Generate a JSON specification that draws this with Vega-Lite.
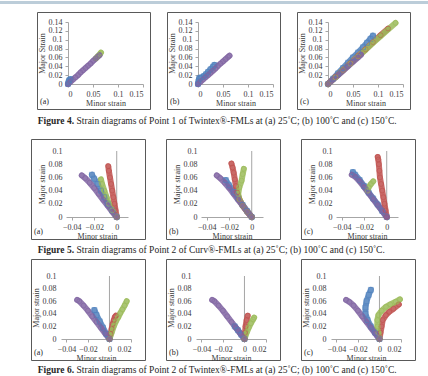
{
  "$schema": "https://vega.github.io/schema/vega-lite/v6.json",
  "padding": {"left": 0, "top": 1, "right": 0, "bottom": 0},
  "spacing": 0,
  "datasets": {
    "pts": [
      {"f":4,"p":"a","s":"s1","i":0,"x":0,"y":0},{"f":4,"p":"a","s":"s1","i":1,"x":0.001,"y":0.004},{"f":4,"p":"a","s":"s1","i":2,"x":0.002,"y":0.007},{"f":4,"p":"a","s":"s1","i":3,"x":0.003,"y":0.009},{"f":4,"p":"a","s":"s1","i":4,"x":0.005,"y":0.011},
      {"f":4,"p":"a","s":"s3","i":0,"x":0.056,"y":0.058},{"f":4,"p":"a","s":"s3","i":1,"x":0.06,"y":0.063},{"f":4,"p":"a","s":"s3","i":2,"x":0.064,"y":0.068},{"f":4,"p":"a","s":"s3","i":3,"x":0.066,"y":0.071},
      {"f":4,"p":"a","s":"s4","i":0,"x":0,"y":0},{"f":4,"p":"a","s":"s4","i":1,"x":0.005,"y":0.005},{"f":4,"p":"a","s":"s4","i":2,"x":0.01,"y":0.01},{"f":4,"p":"a","s":"s4","i":3,"x":0.015,"y":0.015},{"f":4,"p":"a","s":"s4","i":4,"x":0.02,"y":0.02},{"f":4,"p":"a","s":"s4","i":5,"x":0.025,"y":0.026},{"f":4,"p":"a","s":"s4","i":6,"x":0.03,"y":0.031},{"f":4,"p":"a","s":"s4","i":7,"x":0.035,"y":0.036},{"f":4,"p":"a","s":"s4","i":8,"x":0.04,"y":0.041},{"f":4,"p":"a","s":"s4","i":9,"x":0.045,"y":0.046},{"f":4,"p":"a","s":"s4","i":10,"x":0.05,"y":0.052},{"f":4,"p":"a","s":"s4","i":11,"x":0.055,"y":0.057},{"f":4,"p":"a","s":"s4","i":12,"x":0.06,"y":0.062},{"f":4,"p":"a","s":"s4","i":13,"x":0.063,"y":0.065},

      {"f":4,"p":"b","s":"s1","i":0,"x":0,"y":0},{"f":4,"p":"b","s":"s1","i":1,"x":0.001,"y":0.006},{"f":4,"p":"b","s":"s1","i":2,"x":0.002,"y":0.012},{"f":4,"p":"b","s":"s1","i":3,"x":0.004,"y":0.014},{"f":4,"p":"b","s":"s1","i":4,"x":0.008,"y":0.015},{"f":4,"p":"b","s":"s1","i":5,"x":0.012,"y":0.018},{"f":4,"p":"b","s":"s1","i":6,"x":0.016,"y":0.022},{"f":4,"p":"b","s":"s1","i":7,"x":0.02,"y":0.027},{"f":4,"p":"b","s":"s1","i":8,"x":0.025,"y":0.033},{"f":4,"p":"b","s":"s1","i":9,"x":0.03,"y":0.039},{"f":4,"p":"b","s":"s1","i":10,"x":0.033,"y":0.043},
      {"f":4,"p":"b","s":"s4","i":0,"x":0,"y":0},{"f":4,"p":"b","s":"s4","i":1,"x":0.005,"y":0.005},{"f":4,"p":"b","s":"s4","i":2,"x":0.01,"y":0.01},{"f":4,"p":"b","s":"s4","i":3,"x":0.015,"y":0.015},{"f":4,"p":"b","s":"s4","i":4,"x":0.02,"y":0.02},{"f":4,"p":"b","s":"s4","i":5,"x":0.025,"y":0.025},{"f":4,"p":"b","s":"s4","i":6,"x":0.03,"y":0.03},{"f":4,"p":"b","s":"s4","i":7,"x":0.035,"y":0.035},{"f":4,"p":"b","s":"s4","i":8,"x":0.04,"y":0.041},{"f":4,"p":"b","s":"s4","i":9,"x":0.045,"y":0.046},{"f":4,"p":"b","s":"s4","i":10,"x":0.05,"y":0.051},{"f":4,"p":"b","s":"s4","i":11,"x":0.055,"y":0.056},{"f":4,"p":"b","s":"s4","i":12,"x":0.06,"y":0.061},{"f":4,"p":"b","s":"s4","i":13,"x":0.063,"y":0.064},

      {"f":4,"p":"c","s":"s1","i":0,"x":0,"y":0},{"f":4,"p":"c","s":"s1","i":1,"x":0.01,"y":0.012},{"f":4,"p":"c","s":"s1","i":2,"x":0.02,"y":0.024},{"f":4,"p":"c","s":"s1","i":3,"x":0.03,"y":0.036},{"f":4,"p":"c","s":"s1","i":4,"x":0.04,"y":0.048},{"f":4,"p":"c","s":"s1","i":5,"x":0.05,"y":0.06},{"f":4,"p":"c","s":"s1","i":6,"x":0.06,"y":0.071},{"f":4,"p":"c","s":"s1","i":7,"x":0.07,"y":0.083},{"f":4,"p":"c","s":"s1","i":8,"x":0.078,"y":0.093},{"f":4,"p":"c","s":"s1","i":9,"x":0.085,"y":0.102},{"f":4,"p":"c","s":"s1","i":10,"x":0.09,"y":0.109},
      {"f":4,"p":"c","s":"s2","i":0,"x":0,"y":0},{"f":4,"p":"c","s":"s2","i":1,"x":0.015,"y":0.016},{"f":4,"p":"c","s":"s2","i":2,"x":0.03,"y":0.031},{"f":4,"p":"c","s":"s2","i":3,"x":0.045,"y":0.047},{"f":4,"p":"c","s":"s2","i":4,"x":0.06,"y":0.063},{"f":4,"p":"c","s":"s2","i":5,"x":0.075,"y":0.078},{"f":4,"p":"c","s":"s2","i":6,"x":0.09,"y":0.094},{"f":4,"p":"c","s":"s2","i":7,"x":0.105,"y":0.11},{"f":4,"p":"c","s":"s2","i":8,"x":0.12,"y":0.125},
      {"f":4,"p":"c","s":"s3","i":0,"x":0,"y":0},{"f":4,"p":"c","s":"s3","i":1,"x":0.015,"y":0.015},{"f":4,"p":"c","s":"s3","i":2,"x":0.03,"y":0.031},{"f":4,"p":"c","s":"s3","i":3,"x":0.045,"y":0.046},{"f":4,"p":"c","s":"s3","i":4,"x":0.06,"y":0.062},{"f":4,"p":"c","s":"s3","i":5,"x":0.075,"y":0.077},{"f":4,"p":"c","s":"s3","i":6,"x":0.09,"y":0.093},{"f":4,"p":"c","s":"s3","i":7,"x":0.105,"y":0.108},{"f":4,"p":"c","s":"s3","i":8,"x":0.12,"y":0.123},{"f":4,"p":"c","s":"s3","i":9,"x":0.135,"y":0.138},
      {"f":4,"p":"c","s":"s4","i":0,"x":0,"y":0},{"f":4,"p":"c","s":"s4","i":1,"x":0.01,"y":0.01},{"f":4,"p":"c","s":"s4","i":2,"x":0.02,"y":0.02},{"f":4,"p":"c","s":"s4","i":3,"x":0.03,"y":0.03},{"f":4,"p":"c","s":"s4","i":4,"x":0.04,"y":0.04},{"f":4,"p":"c","s":"s4","i":5,"x":0.05,"y":0.05},{"f":4,"p":"c","s":"s4","i":6,"x":0.06,"y":0.06},{"f":4,"p":"c","s":"s4","i":7,"x":0.066,"y":0.066},

      {"f":5,"p":"a","s":"s1","i":0,"x":0,"y":0},{"f":5,"p":"a","s":"s1","i":1,"x":-0.004,"y":0.01},{"f":5,"p":"a","s":"s1","i":2,"x":-0.008,"y":0.02},{"f":5,"p":"a","s":"s1","i":3,"x":-0.011,"y":0.03},{"f":5,"p":"a","s":"s1","i":4,"x":-0.014,"y":0.04},{"f":5,"p":"a","s":"s1","i":5,"x":-0.017,"y":0.05},{"f":5,"p":"a","s":"s1","i":6,"x":-0.02,"y":0.058},{"f":5,"p":"a","s":"s1","i":7,"x":-0.022,"y":0.064},
      {"f":5,"p":"a","s":"s2","i":0,"x":0,"y":0},{"f":5,"p":"a","s":"s2","i":1,"x":-0.001,"y":0.01},{"f":5,"p":"a","s":"s2","i":2,"x":-0.002,"y":0.02},{"f":5,"p":"a","s":"s2","i":3,"x":-0.003,"y":0.03},{"f":5,"p":"a","s":"s2","i":4,"x":-0.004,"y":0.04},{"f":5,"p":"a","s":"s2","i":5,"x":-0.005,"y":0.05},{"f":5,"p":"a","s":"s2","i":6,"x":-0.006,"y":0.06},{"f":5,"p":"a","s":"s2","i":7,"x":-0.007,"y":0.07},{"f":5,"p":"a","s":"s2","i":8,"x":-0.0075,"y":0.077},
      {"f":5,"p":"a","s":"s3","i":0,"x":0,"y":0},{"f":5,"p":"a","s":"s3","i":1,"x":-0.004,"y":0.01},{"f":5,"p":"a","s":"s3","i":2,"x":-0.007,"y":0.02},{"f":5,"p":"a","s":"s3","i":3,"x":-0.009,"y":0.03},{"f":5,"p":"a","s":"s3","i":4,"x":-0.011,"y":0.04},{"f":5,"p":"a","s":"s3","i":5,"x":-0.013,"y":0.05},{"f":5,"p":"a","s":"s3","i":6,"x":-0.014,"y":0.057},
      {"f":5,"p":"a","s":"s4","i":0,"x":0,"y":0},{"f":5,"p":"a","s":"s4","i":1,"x":-0.004,"y":0.008},{"f":5,"p":"a","s":"s4","i":2,"x":-0.008,"y":0.017},{"f":5,"p":"a","s":"s4","i":3,"x":-0.012,"y":0.026},{"f":5,"p":"a","s":"s4","i":4,"x":-0.016,"y":0.035},{"f":5,"p":"a","s":"s4","i":5,"x":-0.02,"y":0.044},{"f":5,"p":"a","s":"s4","i":6,"x":-0.024,"y":0.052},{"f":5,"p":"a","s":"s4","i":7,"x":-0.028,"y":0.059},{"f":5,"p":"a","s":"s4","i":8,"x":-0.031,"y":0.063},

      {"f":5,"p":"b","s":"s1","i":0,"x":0,"y":0},{"f":5,"p":"b","s":"s1","i":1,"x":-0.004,"y":0.009},{"f":5,"p":"b","s":"s1","i":2,"x":-0.008,"y":0.018},{"f":5,"p":"b","s":"s1","i":3,"x":-0.012,"y":0.028},{"f":5,"p":"b","s":"s1","i":4,"x":-0.016,"y":0.038},{"f":5,"p":"b","s":"s1","i":5,"x":-0.02,"y":0.048},{"f":5,"p":"b","s":"s1","i":6,"x":-0.023,"y":0.056},
      {"f":5,"p":"b","s":"s2","i":0,"x":0,"y":0},{"f":5,"p":"b","s":"s2","i":1,"x":-0.004,"y":0.008},{"f":5,"p":"b","s":"s2","i":2,"x":-0.008,"y":0.017},{"f":5,"p":"b","s":"s2","i":3,"x":-0.011,"y":0.027},{"f":5,"p":"b","s":"s2","i":4,"x":-0.013,"y":0.037},{"f":5,"p":"b","s":"s2","i":5,"x":-0.014,"y":0.047},{"f":5,"p":"b","s":"s2","i":6,"x":-0.015,"y":0.057},{"f":5,"p":"b","s":"s2","i":7,"x":-0.016,"y":0.067},{"f":5,"p":"b","s":"s2","i":8,"x":-0.017,"y":0.075},{"f":5,"p":"b","s":"s2","i":9,"x":-0.018,"y":0.081},
      {"f":5,"p":"b","s":"s3","i":0,"x":0,"y":0},{"f":5,"p":"b","s":"s3","i":1,"x":-0.004,"y":0.008},{"f":5,"p":"b","s":"s3","i":2,"x":-0.008,"y":0.017},{"f":5,"p":"b","s":"s3","i":3,"x":-0.011,"y":0.027},{"f":5,"p":"b","s":"s3","i":4,"x":-0.012,"y":0.035},{"f":5,"p":"b","s":"s3","i":5,"x":-0.011,"y":0.045},{"f":5,"p":"b","s":"s3","i":6,"x":-0.009,"y":0.055},{"f":5,"p":"b","s":"s3","i":7,"x":-0.008,"y":0.065},{"f":5,"p":"b","s":"s3","i":8,"x":-0.007,"y":0.073},
      {"f":5,"p":"b","s":"s4","i":0,"x":0,"y":0},{"f":5,"p":"b","s":"s4","i":1,"x":-0.004,"y":0.008},{"f":5,"p":"b","s":"s4","i":2,"x":-0.008,"y":0.017},{"f":5,"p":"b","s":"s4","i":3,"x":-0.012,"y":0.026},{"f":5,"p":"b","s":"s4","i":4,"x":-0.016,"y":0.035},{"f":5,"p":"b","s":"s4","i":5,"x":-0.02,"y":0.044},{"f":5,"p":"b","s":"s4","i":6,"x":-0.024,"y":0.052},{"f":5,"p":"b","s":"s4","i":7,"x":-0.028,"y":0.059},{"f":5,"p":"b","s":"s4","i":8,"x":-0.031,"y":0.063},

      {"f":5,"p":"c","s":"s1","i":0,"x":0,"y":0},{"f":5,"p":"c","s":"s1","i":1,"x":-0.004,"y":0.009},{"f":5,"p":"c","s":"s1","i":2,"x":-0.008,"y":0.019},{"f":5,"p":"c","s":"s1","i":3,"x":-0.012,"y":0.028},{"f":5,"p":"c","s":"s1","i":4,"x":-0.016,"y":0.037},{"f":5,"p":"c","s":"s1","i":5,"x":-0.02,"y":0.047},{"f":5,"p":"c","s":"s1","i":6,"x":-0.024,"y":0.056},{"f":5,"p":"c","s":"s1","i":7,"x":-0.028,"y":0.064},{"f":5,"p":"c","s":"s1","i":8,"x":-0.03,"y":0.068},
      {"f":5,"p":"c","s":"s2","i":0,"x":0,"y":0},{"f":5,"p":"c","s":"s2","i":1,"x":-0.001,"y":0.01},{"f":5,"p":"c","s":"s2","i":2,"x":-0.002,"y":0.02},{"f":5,"p":"c","s":"s2","i":3,"x":-0.003,"y":0.03},{"f":5,"p":"c","s":"s2","i":4,"x":-0.004,"y":0.04},{"f":5,"p":"c","s":"s2","i":5,"x":-0.005,"y":0.05},{"f":5,"p":"c","s":"s2","i":6,"x":-0.006,"y":0.06},{"f":5,"p":"c","s":"s2","i":7,"x":-0.0065,"y":0.07},{"f":5,"p":"c","s":"s2","i":8,"x":-0.007,"y":0.08},{"f":5,"p":"c","s":"s2","i":9,"x":-0.0075,"y":0.087},{"f":5,"p":"c","s":"s2","i":10,"x":-0.008,"y":0.091},
      {"f":5,"p":"c","s":"s3","i":0,"x":-0.017,"y":0.04},{"f":5,"p":"c","s":"s3","i":1,"x":-0.016,"y":0.045},{"f":5,"p":"c","s":"s3","i":2,"x":-0.014,"y":0.05},{"f":5,"p":"c","s":"s3","i":3,"x":-0.012,"y":0.054},
      {"f":5,"p":"c","s":"s4","i":0,"x":0,"y":0},{"f":5,"p":"c","s":"s4","i":1,"x":-0.004,"y":0.009},{"f":5,"p":"c","s":"s4","i":2,"x":-0.008,"y":0.018},{"f":5,"p":"c","s":"s4","i":3,"x":-0.012,"y":0.027},{"f":5,"p":"c","s":"s4","i":4,"x":-0.016,"y":0.036},{"f":5,"p":"c","s":"s4","i":5,"x":-0.02,"y":0.045},{"f":5,"p":"c","s":"s4","i":6,"x":-0.024,"y":0.054},{"f":5,"p":"c","s":"s4","i":7,"x":-0.028,"y":0.061},{"f":5,"p":"c","s":"s4","i":8,"x":-0.031,"y":0.064},

      {"f":6,"p":"a","s":"s1","i":0,"x":0,"y":0},{"f":6,"p":"a","s":"s1","i":1,"x":-0.003,"y":0.008},{"f":6,"p":"a","s":"s1","i":2,"x":-0.006,"y":0.018},{"f":6,"p":"a","s":"s1","i":3,"x":-0.009,"y":0.028},{"f":6,"p":"a","s":"s1","i":4,"x":-0.012,"y":0.038},{"f":6,"p":"a","s":"s1","i":5,"x":-0.014,"y":0.046},
      {"f":6,"p":"a","s":"s2","i":0,"x":0,"y":0},{"f":6,"p":"a","s":"s2","i":1,"x":0.001,"y":0.008},{"f":6,"p":"a","s":"s2","i":2,"x":0.002,"y":0.016},{"f":6,"p":"a","s":"s2","i":3,"x":0.003,"y":0.024},{"f":6,"p":"a","s":"s2","i":4,"x":0.004,"y":0.03},{"f":6,"p":"a","s":"s2","i":5,"x":0.005,"y":0.035},{"f":6,"p":"a","s":"s2","i":6,"x":0.006,"y":0.037},
      {"f":6,"p":"a","s":"s3","i":0,"x":0,"y":0},{"f":6,"p":"a","s":"s3","i":1,"x":0.002,"y":0.01},{"f":6,"p":"a","s":"s3","i":2,"x":0.004,"y":0.02},{"f":6,"p":"a","s":"s3","i":3,"x":0.006,"y":0.028},{"f":6,"p":"a","s":"s3","i":4,"x":0.008,"y":0.034},{"f":6,"p":"a","s":"s3","i":5,"x":0.01,"y":0.041},{"f":6,"p":"a","s":"s3","i":6,"x":0.012,"y":0.047},{"f":6,"p":"a","s":"s3","i":7,"x":0.014,"y":0.053},{"f":6,"p":"a","s":"s3","i":8,"x":0.016,"y":0.06},
      {"f":6,"p":"a","s":"s4","i":0,"x":0,"y":0},{"f":6,"p":"a","s":"s4","i":1,"x":-0.004,"y":0.009},{"f":6,"p":"a","s":"s4","i":2,"x":-0.008,"y":0.018},{"f":6,"p":"a","s":"s4","i":3,"x":-0.012,"y":0.027},{"f":6,"p":"a","s":"s4","i":4,"x":-0.016,"y":0.036},{"f":6,"p":"a","s":"s4","i":5,"x":-0.02,"y":0.045},{"f":6,"p":"a","s":"s4","i":6,"x":-0.024,"y":0.053},{"f":6,"p":"a","s":"s4","i":7,"x":-0.028,"y":0.06},{"f":6,"p":"a","s":"s4","i":8,"x":-0.03,"y":0.062},

      {"f":6,"p":"b","s":"s1","i":0,"x":0,"y":0},{"f":6,"p":"b","s":"s1","i":1,"x":-0.003,"y":0.007},{"f":6,"p":"b","s":"s1","i":2,"x":-0.006,"y":0.014},{"f":6,"p":"b","s":"s1","i":3,"x":-0.009,"y":0.02},
      {"f":6,"p":"b","s":"s2","i":0,"x":0,"y":0},{"f":6,"p":"b","s":"s2","i":1,"x":0.0005,"y":0.01},{"f":6,"p":"b","s":"s2","i":2,"x":0.001,"y":0.02},{"f":6,"p":"b","s":"s2","i":3,"x":0.002,"y":0.03},{"f":6,"p":"b","s":"s2","i":4,"x":0.003,"y":0.037},
      {"f":6,"p":"b","s":"s3","i":0,"x":0,"y":0},{"f":6,"p":"b","s":"s3","i":1,"x":0.002,"y":0.01},{"f":6,"p":"b","s":"s3","i":2,"x":0.004,"y":0.018},{"f":6,"p":"b","s":"s3","i":3,"x":0.006,"y":0.025},{"f":6,"p":"b","s":"s3","i":4,"x":0.008,"y":0.031},{"f":6,"p":"b","s":"s3","i":5,"x":0.009,"y":0.034},
      {"f":6,"p":"b","s":"s4","i":0,"x":0,"y":0},{"f":6,"p":"b","s":"s4","i":1,"x":-0.004,"y":0.009},{"f":6,"p":"b","s":"s4","i":2,"x":-0.008,"y":0.018},{"f":6,"p":"b","s":"s4","i":3,"x":-0.012,"y":0.027},{"f":6,"p":"b","s":"s4","i":4,"x":-0.016,"y":0.036},{"f":6,"p":"b","s":"s4","i":5,"x":-0.02,"y":0.045},{"f":6,"p":"b","s":"s4","i":6,"x":-0.024,"y":0.053},{"f":6,"p":"b","s":"s4","i":7,"x":-0.028,"y":0.06},{"f":6,"p":"b","s":"s4","i":8,"x":-0.03,"y":0.062},

      {"f":6,"p":"c","s":"s1","i":0,"x":0,"y":0},{"f":6,"p":"c","s":"s1","i":1,"x":-0.004,"y":0.01},{"f":6,"p":"c","s":"s1","i":2,"x":-0.008,"y":0.02},{"f":6,"p":"c","s":"s1","i":3,"x":-0.011,"y":0.03},{"f":6,"p":"c","s":"s1","i":4,"x":-0.013,"y":0.04},{"f":6,"p":"c","s":"s1","i":5,"x":-0.013,"y":0.05},{"f":6,"p":"c","s":"s1","i":6,"x":-0.012,"y":0.06},{"f":6,"p":"c","s":"s1","i":7,"x":-0.01,"y":0.07},{"f":6,"p":"c","s":"s1","i":8,"x":-0.008,"y":0.078},
      {"f":6,"p":"c","s":"s2","i":0,"x":0,"y":0},{"f":6,"p":"c","s":"s2","i":1,"x":0.001,"y":0.01},{"f":6,"p":"c","s":"s2","i":2,"x":0.002,"y":0.02},{"f":6,"p":"c","s":"s2","i":3,"x":0.003,"y":0.03},{"f":6,"p":"c","s":"s2","i":4,"x":0.006,"y":0.038},{"f":6,"p":"c","s":"s2","i":5,"x":0.009,"y":0.043},{"f":6,"p":"c","s":"s2","i":6,"x":0.013,"y":0.048},{"f":6,"p":"c","s":"s2","i":7,"x":0.018,"y":0.055},
      {"f":6,"p":"c","s":"s3","i":0,"x":0,"y":0},{"f":6,"p":"c","s":"s3","i":1,"x":-0.001,"y":0.01},{"f":6,"p":"c","s":"s3","i":2,"x":-0.002,"y":0.02},{"f":6,"p":"c","s":"s3","i":3,"x":-0.002,"y":0.03},{"f":6,"p":"c","s":"s3","i":4,"x":-0.001,"y":0.038},{"f":6,"p":"c","s":"s3","i":5,"x":0.002,"y":0.045},{"f":6,"p":"c","s":"s3","i":6,"x":0.006,"y":0.051},{"f":6,"p":"c","s":"s3","i":7,"x":0.01,"y":0.055},{"f":6,"p":"c","s":"s3","i":8,"x":0.015,"y":0.059},{"f":6,"p":"c","s":"s3","i":9,"x":0.019,"y":0.063},
      {"f":6,"p":"c","s":"s4","i":0,"x":0,"y":0},{"f":6,"p":"c","s":"s4","i":1,"x":-0.004,"y":0.009},{"f":6,"p":"c","s":"s4","i":2,"x":-0.008,"y":0.018},{"f":6,"p":"c","s":"s4","i":3,"x":-0.012,"y":0.027},{"f":6,"p":"c","s":"s4","i":4,"x":-0.016,"y":0.036},{"f":6,"p":"c","s":"s4","i":5,"x":-0.02,"y":0.045},{"f":6,"p":"c","s":"s4","i":6,"x":-0.024,"y":0.053},{"f":6,"p":"c","s":"s4","i":7,"x":-0.028,"y":0.059},{"f":6,"p":"c","s":"s4","i":8,"x":-0.031,"y":0.062}
    ]
  },
  "vconcat": [
    {
      "width": 428, "height": 10, "view": {"stroke": null},
      "data": {"values": [{}]},
      "mark": {"type": "rect", "color": "#bccdd9"},
      "encoding": {
        "x": {"datum": 0, "type": "quantitative", "scale": {"domain": [0, 1]}, "axis": null},
        "x2": {"datum": 1},
        "y": {"datum": 1, "type": "quantitative", "scale": {"domain": [0, 1]}, "axis": null},
        "y2": {"datum": 0.7}
      }
    },
    {
      "spacing": 15,
      "hconcat": [
        {"width": 21, "height": 97, "view": {"stroke": null}, "data": {"values": [{}]}, "mark": {"type": "point", "opacity": 0}},
        {
          "width": 113, "height": 97, "data": {"name": "pts"},
          "transform": [{"filter": "datum.f == 4 && datum.p == 'a'"}],
          "layer": [
            {"mark": {"type": "line", "strokeWidth": 6, "strokeCap": "round", "strokeJoin": "round", "opacity": 0.85},
             "encoding": {
               "x": {"field": "x", "type": "quantitative", "scale": {"domain": [0, 0.15], "range": [31, 106], "nice": false}, "axis": {"tickCount": 3, "format": ".2~f", "offset": -25, "title": "Minor strain", "labelPadding": 3, "titlePadding": 1, "labelOverlap": false}},
               "y": {"field": "y", "type": "quantitative", "scale": {"domain": [0, 0.14], "range": [72, 10], "nice": false}, "axis": {"tickCount": 7, "format": ".2~f", "offset": -31, "title": "Major Strain", "labelPadding": 3, "titlePadding": 2, "labelOverlap": false}},
               "color": {"field": "s", "type": "nominal", "scale": {"domain": ["s1", "s2", "s3", "s4"], "range": ["#4f81bd", "#c0504d", "#9bbb59", "#8064a2"]}, "legend": null},
               "order": {"field": "i", "type": "quantitative"}}},
            {"mark": {"type": "point", "filled": false, "size": 24, "strokeWidth": 0.9},
             "encoding": {"x": {"field": "x", "type": "quantitative"}, "y": {"field": "y", "type": "quantitative"}, "color": {"field": "s", "type": "nominal", "legend": null}, "shape": {"field": "s", "type": "nominal", "scale": {"domain": ["s1", "s2", "s3", "s4"], "range": ["square", "circle", "circle", "circle"]}, "legend": null}}},
            {"data": {"values": [{"lbl": "(a)"}]}, "mark": {"type": "text", "align": "left", "baseline": "middle"},
             "encoding": {"x": {"datum": -0.056}, "y": {"datum": -0.0406}, "text": {"field": "lbl"}}}
          ]
        },
        {
          "width": 113, "height": 97, "data": {"name": "pts"},
          "transform": [{"filter": "datum.f == 4 && datum.p == 'b'"}],
          "layer": [
            {"mark": {"type": "line", "strokeWidth": 6, "strokeCap": "round", "strokeJoin": "round", "opacity": 0.85},
             "encoding": {
               "x": {"field": "x", "type": "quantitative", "scale": {"domain": [0, 0.15], "range": [31, 106], "nice": false}, "axis": {"tickCount": 3, "format": ".2~f", "offset": -25, "title": "Minor strain", "labelPadding": 3, "titlePadding": 1, "labelOverlap": false}},
               "y": {"field": "y", "type": "quantitative", "scale": {"domain": [0, 0.14], "range": [72, 10], "nice": false}, "axis": {"tickCount": 7, "format": ".2~f", "offset": -31, "title": "Major Strain", "labelPadding": 3, "titlePadding": 2, "labelOverlap": false}},
               "color": {"field": "s", "type": "nominal", "scale": {"domain": ["s1", "s2", "s3", "s4"], "range": ["#4f81bd", "#c0504d", "#9bbb59", "#8064a2"]}, "legend": null},
               "order": {"field": "i", "type": "quantitative"}}},
            {"mark": {"type": "point", "filled": false, "size": 24, "strokeWidth": 0.9},
             "encoding": {"x": {"field": "x", "type": "quantitative"}, "y": {"field": "y", "type": "quantitative"}, "color": {"field": "s", "type": "nominal", "legend": null}, "shape": {"field": "s", "type": "nominal", "scale": {"domain": ["s1", "s2", "s3", "s4"], "range": ["square", "circle", "circle", "circle"]}, "legend": null}}},
            {"data": {"values": [{"lbl": "(b)"}]}, "mark": {"type": "text", "align": "left", "baseline": "middle"},
             "encoding": {"x": {"datum": -0.056}, "y": {"datum": -0.0406}, "text": {"field": "lbl"}}}
          ]
        },
        {
          "width": 113, "height": 97, "data": {"name": "pts"},
          "transform": [{"filter": "datum.f == 4 && datum.p == 'c'"}],
          "layer": [
            {"mark": {"type": "line", "strokeWidth": 6, "strokeCap": "round", "strokeJoin": "round", "opacity": 0.85},
             "encoding": {
               "x": {"field": "x", "type": "quantitative", "scale": {"domain": [0, 0.15], "range": [31, 106], "nice": false}, "axis": {"tickCount": 3, "format": ".2~f", "offset": -25, "title": "Minor strain", "labelPadding": 3, "titlePadding": 1, "labelOverlap": false}},
               "y": {"field": "y", "type": "quantitative", "scale": {"domain": [0, 0.14], "range": [72, 10], "nice": false}, "axis": {"tickCount": 7, "format": ".2~f", "offset": -31, "title": "Major Strain", "labelPadding": 3, "titlePadding": 2, "labelOverlap": false}},
               "color": {"field": "s", "type": "nominal", "scale": {"domain": ["s1", "s2", "s3", "s4"], "range": ["#4f81bd", "#c0504d", "#9bbb59", "#8064a2"]}, "legend": null},
               "order": {"field": "i", "type": "quantitative"}}},
            {"mark": {"type": "point", "filled": false, "size": 24, "strokeWidth": 0.9},
             "encoding": {"x": {"field": "x", "type": "quantitative"}, "y": {"field": "y", "type": "quantitative"}, "color": {"field": "s", "type": "nominal", "legend": null}, "shape": {"field": "s", "type": "nominal", "scale": {"domain": ["s1", "s2", "s3", "s4"], "range": ["square", "circle", "circle", "circle"]}, "legend": null}}},
            {"data": {"values": [{"lbl": "(c)"}]}, "mark": {"type": "text", "align": "left", "baseline": "middle"},
             "encoding": {"x": {"datum": -0.056}, "y": {"datum": -0.0406}, "text": {"field": "lbl"}}}
          ]
        }
      ]
    },
    {
      "width": 428, "height": 28, "view": {"stroke": null},
      "data": {"values": [{"fig": "Figure 4.", "cap": "Strain diagrams of Point 1 of Twintex®-FMLs at (a) 25˚C; (b) 100˚C and (c) 150˚C."}]},
      "encoding": {
        "x": {"datum": 0.173, "type": "quantitative", "scale": {"domain": [0, 1]}, "axis": null},
        "y": {"datum": 0.6, "type": "quantitative", "scale": {"domain": [0, 1]}, "axis": null}
      },
      "layer": [
        {"mark": {"type": "text", "align": "right", "baseline": "middle", "fontWeight": "bold", "fontSize": 9.5}, "encoding": {"text": {"field": "fig"}}},
        {"mark": {"type": "text", "align": "left", "baseline": "middle", "fontSize": 9.5, "dx": 2.5}, "encoding": {"text": {"field": "cap"}}}
      ]
    },
    {
      "spacing": 19,
      "hconcat": [
        {"width": 11, "height": 100, "view": {"stroke": null}, "data": {"values": [{}]}, "mark": {"type": "point", "opacity": 0}},
        {
          "width": 114, "height": 100, "data": {"name": "pts"},
          "transform": [{"filter": "datum.f == 5 && datum.p == 'a'"}],
          "layer": [
            {"data": {"values": [{}]}, "mark": {"type": "rule", "color": "#a6a6a6", "strokeWidth": 1},
             "encoding": {"x": {"datum": 0}, "y": {"datum": 0}, "y2": {"datum": 0.1}}},
            {"mark": {"type": "line", "strokeWidth": 6, "strokeCap": "round", "strokeJoin": "round", "opacity": 0.85},
             "encoding": {
               "x": {"field": "x", "type": "quantitative", "scale": {"domain": [-0.045, 0.01], "range": [35, 97], "nice": false}, "axis": {"tickCount": 3, "format": ".2~f", "offset": -22, "title": "Minor strain", "labelPadding": 3, "titlePadding": 1, "labelOverlap": false}},
               "y": {"field": "y", "type": "quantitative", "scale": {"domain": [0, 0.1], "range": [78, 12], "nice": false}, "axis": {"tickCount": 5, "format": ".2~f", "offset": -35, "domain": false, "ticks": false, "title": "Major strain", "labelPadding": 4, "titlePadding": 2, "labelOverlap": false}},
               "color": {"field": "s", "type": "nominal", "scale": {"domain": ["s1", "s2", "s3", "s4"], "range": ["#4f81bd", "#c0504d", "#9bbb59", "#8064a2"]}, "legend": null},
               "order": {"field": "i", "type": "quantitative"}}},
            {"mark": {"type": "point", "filled": false, "size": 24, "strokeWidth": 0.9},
             "encoding": {"x": {"field": "x", "type": "quantitative"}, "y": {"field": "y", "type": "quantitative"}, "color": {"field": "s", "type": "nominal", "legend": null}, "shape": {"field": "s", "type": "nominal", "scale": {"domain": ["s1", "s2", "s3", "s4"], "range": ["square", "circle", "circle", "circle"]}, "legend": null}}},
            {"data": {"values": [{"lbl": "(a)"}]}, "mark": {"type": "text", "align": "left", "baseline": "middle"},
             "encoding": {"x": {"datum": -0.0734}, "y": {"datum": -0.0227}, "text": {"field": "lbl"}}}
          ]
        },
        {
          "width": 114, "height": 100, "data": {"name": "pts"},
          "transform": [{"filter": "datum.f == 5 && datum.p == 'b'"}],
          "layer": [
            {"data": {"values": [{}]}, "mark": {"type": "rule", "color": "#a6a6a6", "strokeWidth": 1},
             "encoding": {"x": {"datum": 0}, "y": {"datum": 0}, "y2": {"datum": 0.1}}},
            {"mark": {"type": "line", "strokeWidth": 6, "strokeCap": "round", "strokeJoin": "round", "opacity": 0.85},
             "encoding": {
               "x": {"field": "x", "type": "quantitative", "scale": {"domain": [-0.045, 0.01], "range": [35, 97], "nice": false}, "axis": {"tickCount": 3, "format": ".2~f", "offset": -22, "title": "Minor strain", "labelPadding": 3, "titlePadding": 1, "labelOverlap": false}},
               "y": {"field": "y", "type": "quantitative", "scale": {"domain": [0, 0.1], "range": [78, 12], "nice": false}, "axis": {"tickCount": 5, "format": ".2~f", "offset": -35, "domain": false, "ticks": false, "title": "Major strain", "labelPadding": 4, "titlePadding": 2, "labelOverlap": false}},
               "color": {"field": "s", "type": "nominal", "scale": {"domain": ["s1", "s2", "s3", "s4"], "range": ["#4f81bd", "#c0504d", "#9bbb59", "#8064a2"]}, "legend": null},
               "order": {"field": "i", "type": "quantitative"}}},
            {"mark": {"type": "point", "filled": false, "size": 24, "strokeWidth": 0.9},
             "encoding": {"x": {"field": "x", "type": "quantitative"}, "y": {"field": "y", "type": "quantitative"}, "color": {"field": "s", "type": "nominal", "legend": null}, "shape": {"field": "s", "type": "nominal", "scale": {"domain": ["s1", "s2", "s3", "s4"], "range": ["square", "circle", "circle", "circle"]}, "legend": null}}},
            {"data": {"values": [{"lbl": "(b)"}]}, "mark": {"type": "text", "align": "left", "baseline": "middle"},
             "encoding": {"x": {"datum": -0.0734}, "y": {"datum": -0.0227}, "text": {"field": "lbl"}}}
          ]
        },
        {
          "width": 114, "height": 100, "data": {"name": "pts"},
          "transform": [{"filter": "datum.f == 5 && datum.p == 'c'"}],
          "layer": [
            {"data": {"values": [{}]}, "mark": {"type": "rule", "color": "#a6a6a6", "strokeWidth": 1},
             "encoding": {"x": {"datum": 0}, "y": {"datum": 0}, "y2": {"datum": 0.1}}},
            {"mark": {"type": "line", "strokeWidth": 6, "strokeCap": "round", "strokeJoin": "round", "opacity": 0.85},
             "encoding": {
               "x": {"field": "x", "type": "quantitative", "scale": {"domain": [-0.045, 0.01], "range": [35, 97], "nice": false}, "axis": {"tickCount": 3, "format": ".2~f", "offset": -22, "title": "Minor strain", "labelPadding": 3, "titlePadding": 1, "labelOverlap": false}},
               "y": {"field": "y", "type": "quantitative", "scale": {"domain": [0, 0.1], "range": [78, 12], "nice": false}, "axis": {"tickCount": 5, "format": ".2~f", "offset": -35, "domain": false, "ticks": false, "title": "Major strain", "labelPadding": 4, "titlePadding": 2, "labelOverlap": false}},
               "color": {"field": "s", "type": "nominal", "scale": {"domain": ["s1", "s2", "s3", "s4"], "range": ["#4f81bd", "#c0504d", "#9bbb59", "#8064a2"]}, "legend": null},
               "order": {"field": "i", "type": "quantitative"}}},
            {"mark": {"type": "point", "filled": false, "size": 24, "strokeWidth": 0.9},
             "encoding": {"x": {"field": "x", "type": "quantitative"}, "y": {"field": "y", "type": "quantitative"}, "color": {"field": "s", "type": "nominal", "legend": null}, "shape": {"field": "s", "type": "nominal", "scale": {"domain": ["s1", "s2", "s3", "s4"], "range": ["square", "circle", "circle", "circle"]}, "legend": null}}},
            {"data": {"values": [{"lbl": "(c)"}]}, "mark": {"type": "text", "align": "left", "baseline": "middle"},
             "encoding": {"x": {"datum": -0.0734}, "y": {"datum": -0.0227}, "text": {"field": "lbl"}}}
          ]
        }
      ]
    },
    {
      "width": 428, "height": 17, "view": {"stroke": null},
      "data": {"values": [{"fig": "Figure 5.", "cap": "Strain diagrams of Point 2 of Curv®-FMLs at (a) 25˚C; (b) 100˚C and (c) 150˚C."}]},
      "encoding": {
        "x": {"datum": 0.173, "type": "quantitative", "scale": {"domain": [0, 1]}, "axis": null},
        "y": {"datum": 0.5, "type": "quantitative", "scale": {"domain": [0, 1]}, "axis": null}
      },
      "layer": [
        {"mark": {"type": "text", "align": "right", "baseline": "middle", "fontWeight": "bold", "fontSize": 9.5}, "encoding": {"text": {"field": "fig"}}},
        {"mark": {"type": "text", "align": "left", "baseline": "middle", "fontSize": 9.5, "dx": 2.5}, "encoding": {"text": {"field": "cap"}}}
      ]
    },
    {
      "spacing": 19,
      "hconcat": [
        {"width": 11, "height": 101, "view": {"stroke": null}, "data": {"values": [{}]}, "mark": {"type": "point", "opacity": 0}},
        {
          "width": 114, "height": 101, "data": {"name": "pts"},
          "transform": [{"filter": "datum.f == 6 && datum.p == 'a'"}],
          "layer": [
            {"data": {"values": [{}]}, "mark": {"type": "rule", "color": "#a6a6a6", "strokeWidth": 1},
             "encoding": {"x": {"datum": 0}, "y": {"datum": 0}, "y2": {"datum": 0.1}}},
            {"mark": {"type": "line", "strokeWidth": 6, "strokeCap": "round", "strokeJoin": "round", "opacity": 0.85},
             "encoding": {
               "x": {"field": "x", "type": "quantitative", "scale": {"domain": [-0.045, 0.02], "range": [30, 100], "nice": false}, "axis": {"tickCount": 3, "format": ".2~f", "offset": -21, "title": "Minor strain", "labelPadding": 3, "titlePadding": 1, "labelOverlap": false}},
               "y": {"field": "y", "type": "quantitative", "scale": {"domain": [0, 0.1], "range": [80, 17], "nice": false}, "axis": {"tickCount": 5, "format": ".2~f", "offset": -30, "domain": false, "ticks": false, "title": "Major strain", "labelPadding": 5, "titlePadding": 2, "labelOverlap": false}},
               "color": {"field": "s", "type": "nominal", "scale": {"domain": ["s1", "s2", "s3", "s4"], "range": ["#4f81bd", "#c0504d", "#9bbb59", "#8064a2"]}, "legend": null},
               "order": {"field": "i", "type": "quantitative"}}},
            {"mark": {"type": "point", "filled": false, "size": 24, "strokeWidth": 0.9},
             "encoding": {"x": {"field": "x", "type": "quantitative"}, "y": {"field": "y", "type": "quantitative"}, "color": {"field": "s", "type": "nominal", "legend": null}, "shape": {"field": "s", "type": "nominal", "scale": {"domain": ["s1", "s2", "s3", "s4"], "range": ["square", "circle", "circle", "circle"]}, "legend": null}}},
            {"data": {"values": [{"lbl": "(a)"}]}, "mark": {"type": "text", "align": "left", "baseline": "middle"},
             "encoding": {"x": {"datum": -0.0701}, "y": {"datum": -0.0222}, "text": {"field": "lbl"}}}
          ]
        },
        {
          "width": 114, "height": 101, "data": {"name": "pts"},
          "transform": [{"filter": "datum.f == 6 && datum.p == 'b'"}],
          "layer": [
            {"data": {"values": [{}]}, "mark": {"type": "rule", "color": "#a6a6a6", "strokeWidth": 1},
             "encoding": {"x": {"datum": 0}, "y": {"datum": 0}, "y2": {"datum": 0.1}}},
            {"mark": {"type": "line", "strokeWidth": 6, "strokeCap": "round", "strokeJoin": "round", "opacity": 0.85},
             "encoding": {
               "x": {"field": "x", "type": "quantitative", "scale": {"domain": [-0.045, 0.02], "range": [30, 100], "nice": false}, "axis": {"tickCount": 3, "format": ".2~f", "offset": -21, "title": "Minor strain", "labelPadding": 3, "titlePadding": 1, "labelOverlap": false}},
               "y": {"field": "y", "type": "quantitative", "scale": {"domain": [0, 0.1], "range": [80, 17], "nice": false}, "axis": {"tickCount": 5, "format": ".2~f", "offset": -30, "domain": false, "ticks": false, "title": "Major strain", "labelPadding": 5, "titlePadding": 2, "labelOverlap": false}},
               "color": {"field": "s", "type": "nominal", "scale": {"domain": ["s1", "s2", "s3", "s4"], "range": ["#4f81bd", "#c0504d", "#9bbb59", "#8064a2"]}, "legend": null},
               "order": {"field": "i", "type": "quantitative"}}},
            {"mark": {"type": "point", "filled": false, "size": 24, "strokeWidth": 0.9},
             "encoding": {"x": {"field": "x", "type": "quantitative"}, "y": {"field": "y", "type": "quantitative"}, "color": {"field": "s", "type": "nominal", "legend": null}, "shape": {"field": "s", "type": "nominal", "scale": {"domain": ["s1", "s2", "s3", "s4"], "range": ["square", "circle", "circle", "circle"]}, "legend": null}}},
            {"data": {"values": [{"lbl": "(b)"}]}, "mark": {"type": "text", "align": "left", "baseline": "middle"},
             "encoding": {"x": {"datum": -0.0701}, "y": {"datum": -0.0222}, "text": {"field": "lbl"}}}
          ]
        },
        {
          "width": 114, "height": 101, "data": {"name": "pts"},
          "transform": [{"filter": "datum.f == 6 && datum.p == 'c'"}],
          "layer": [
            {"data": {"values": [{}]}, "mark": {"type": "rule", "color": "#a6a6a6", "strokeWidth": 1},
             "encoding": {"x": {"datum": 0}, "y": {"datum": 0}, "y2": {"datum": 0.1}}},
            {"mark": {"type": "line", "strokeWidth": 6, "strokeCap": "round", "strokeJoin": "round", "opacity": 0.85},
             "encoding": {
               "x": {"field": "x", "type": "quantitative", "scale": {"domain": [-0.045, 0.02], "range": [30, 100], "nice": false}, "axis": {"tickCount": 3, "format": ".2~f", "offset": -21, "title": "Minor strain", "labelPadding": 3, "titlePadding": 1, "labelOverlap": false}},
               "y": {"field": "y", "type": "quantitative", "scale": {"domain": [0, 0.1], "range": [80, 17], "nice": false}, "axis": {"tickCount": 5, "format": ".2~f", "offset": -30, "domain": false, "ticks": false, "title": "Major strain", "labelPadding": 5, "titlePadding": 2, "labelOverlap": false}},
               "color": {"field": "s", "type": "nominal", "scale": {"domain": ["s1", "s2", "s3", "s4"], "range": ["#4f81bd", "#c0504d", "#9bbb59", "#8064a2"]}, "legend": null},
               "order": {"field": "i", "type": "quantitative"}}},
            {"mark": {"type": "point", "filled": false, "size": 24, "strokeWidth": 0.9},
             "encoding": {"x": {"field": "x", "type": "quantitative"}, "y": {"field": "y", "type": "quantitative"}, "color": {"field": "s", "type": "nominal", "legend": null}, "shape": {"field": "s", "type": "nominal", "scale": {"domain": ["s1", "s2", "s3", "s4"], "range": ["square", "circle", "circle", "circle"]}, "legend": null}}},
            {"data": {"values": [{"lbl": "(c)"}]}, "mark": {"type": "text", "align": "left", "baseline": "middle"},
             "encoding": {"x": {"datum": -0.0701}, "y": {"datum": -0.0222}, "text": {"field": "lbl"}}}
          ]
        }
      ]
    },
    {
      "width": 428, "height": 14, "view": {"stroke": null},
      "data": {"values": [{"fig": "Figure 6.", "cap": "Strain diagrams of Point 2 of Twintex®-FMLs at (a) 25˚C; (b) 100˚C and (c) 150˚C."}]},
      "encoding": {
        "x": {"datum": 0.173, "type": "quantitative", "scale": {"domain": [0, 1]}, "axis": null},
        "y": {"datum": 0.5, "type": "quantitative", "scale": {"domain": [0, 1]}, "axis": null}
      },
      "layer": [
        {"mark": {"type": "text", "align": "right", "baseline": "middle", "fontWeight": "bold", "fontSize": 9.5}, "encoding": {"text": {"field": "fig"}}},
        {"mark": {"type": "text", "align": "left", "baseline": "middle", "fontSize": 9.5, "dx": 2.5}, "encoding": {"text": {"field": "cap"}}}
      ]
    }
  ],
  "config": {
    "view": {"stroke": "#595959", "strokeWidth": 1},
    "font": "Liberation Serif",
    "axis": {
      "labelFont": "Liberation Serif", "titleFont": "Liberation Serif",
      "labelFontSize": 8, "titleFontSize": 8, "titleFontWeight": "normal",
      "labelColor": "#3a3a3a", "titleColor": "#3a3a3a",
      "domainColor": "#a6a6a6", "tickColor": "#a6a6a6", "tickSize": 3,
      "grid": false
    },
    "text": {"font": "Liberation Serif", "fontSize": 8, "color": "#262626"}
  }
}
